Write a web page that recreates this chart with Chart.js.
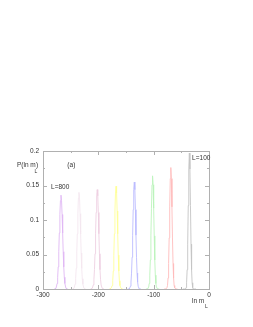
<!DOCTYPE html>
<html>
<head>
<meta charset="utf-8">
<script src="https://cdn.jsdelivr.net/npm/chart.js@4/dist/chart.umd.min.js"></script>
<style>
html,body{margin:0;padding:0;background:#fff;}
canvas{display:block;}
</style>
</head>
<body>
<canvas id="c" width="253" height="327"></canvas>
<script>
// ---- data ----
const seriesLabels = ["L=800", "L=700", "L=600", "L=500", "L=400", "L=300", "L=200", "L=100"];
const s1x = [-279.5,-276.5,-274.5,-273.5,-272.5,-271.5,-270.5,-269.5,-268.5,-267.5,-266.5,-265.5,-264.5,-263.5,-262.5,-261.5,-260.5,-258.5,-255.5];
const s1y = [0,0.001,0.008,0.017,0.032,0.054,0.081,0.108,0.128,0.136,0.128,0.108,0.081,0.054,0.032,0.017,0.008,0.001,0];
const s2x = [-247,-244,-242,-241,-240,-239,-238,-237,-236,-235,-234,-233,-232,-231,-230,-229,-228,-226,-223];
const s2y = [0,0.001,0.007,0.015,0.030,0.052,0.080,0.109,0.132,0.140,0.132,0.109,0.080,0.052,0.030,0.015,0.007,0.001,0];
const s3x = [-214,-211,-209,-208,-207,-206,-205,-204,-203,-202,-201,-200,-199,-198,-197,-196,-195,-193,-190];
const s3y = [0,0.001,0.006,0.014,0.028,0.051,0.080,0.111,0.135,0.144,0.135,0.111,0.080,0.051,0.028,0.014,0.006,0.001,0];
const s4x = [-180,-177,-175,-174,-173,-172,-171,-170,-169,-168,-167,-166,-165,-164,-163,-162,-161,-159,-156];
const s4y = [0,0.001,0.005,0.012,0.026,0.049,0.080,0.113,0.139,0.149,0.139,0.113,0.080,0.049,0.026,0.012,0.005,0.001,0];
const s5x = [-147,-144,-142,-141,-140,-139,-138,-137,-136,-135,-134,-133,-132,-131,-130,-129,-128,-126,-123];
const s5y = [0,0,0.004,0.010,0.023,0.046,0.078,0.115,0.144,0.155,0.144,0.115,0.078,0.046,0.023,0.010,0.004,0,0];
const s6x = [-114,-111,-109,-108,-107,-106,-105,-104,-103,-102,-101,-100,-99,-98,-97,-96,-95,-93,-90];
const s6y = [0,0,0.003,0.008,0.020,0.042,0.077,0.117,0.151,0.164,0.151,0.117,0.077,0.042,0.020,0.008,0.003,0,0];
const s7x = [-81,-78,-76,-75,-74,-73,-72,-71,-70,-69,-68,-67,-66,-65,-64,-63,-62,-60,-57];
const s7y = [0,0,0.002,0.005,0.016,0.037,0.074,0.119,0.160,0.176,0.160,0.119,0.074,0.037,0.016,0.005,0.002,0,0];
const s8x = [-47.5,-44.5,-42.5,-41.5,-40.5,-39.5,-38.5,-37.5,-36.5,-35.5,-34.5,-33.5,-32.5,-31.5,-30.5,-29.5,-28.5,-26.5,-23.5];
const s8y = [0,0,0,0.002,0.009,0.028,0.065,0.121,0.174,0.197,0.174,0.121,0.065,0.028,0.009,0.002,0,0,0];
const xTickLabels = [-300, -200, -100, 0];
const yTickLabels = ["0", "0.05", "0.1", "0.15", "0.2"];

// ---- styles ----
const colors = ["#e0b8f4", "#f4e6ef", "#eed0e2", "#ffff98", "#bcbcff", "#bcf4bc", "#ffbcbc", "#c4c4c4"];
const FONT = '"Liberation Sans", Arial, sans-serif';
const TXT = "#333";

const xs = [s1x,s2x,s3x,s4x,s5x,s6x,s7x,s8x];
const ys = [s1y,s2y,s3y,s4y,s5y,s6y,s7y,s8y];
const datasets = xs.map((xa, i) => ({
  label: seriesLabels[i],
  data: xa.map((x, j) => ({x: x, y: ys[i][j]})),
  showLine: true,
  borderColor: colors[i],
  borderWidth: 0.9,
  pointRadius: 0,
  tension: 0,
  fill: false
}));

const framePlugin = {
  id: 'frame',
  afterDraw(chart) {
    const ctx = chart.ctx;
    const {left, right, top, bottom} = chart.chartArea;
    const xsc = chart.scales.x, ysc = chart.scales.y;
    ctx.save();
    ctx.strokeStyle = "#b0b0b0";
    ctx.lineWidth = 1;
    ctx.strokeRect(Math.round(left) + 0.5, Math.round(top) + 0.5, Math.round(right - left), Math.round(bottom - top));
    ctx.beginPath();
    xsc.ticks.forEach(t => {
      const px = Math.round(xsc.getPixelForValue(t.value)) + 0.5;
      const len = xTickLabels.includes(t.value) ? 4 : 2;
      ctx.moveTo(px, bottom); ctx.lineTo(px, bottom - len);
      ctx.moveTo(px, top); ctx.lineTo(px, top + len);
    });
    ysc.ticks.forEach(t => {
      const py = Math.round(ysc.getPixelForValue(t.value)) + 0.5;
      const major = Math.round(t.value * 40) % 2 === 0;
      const len = major ? 4 : 2;
      ctx.moveTo(left, py); ctx.lineTo(left + len, py);
      ctx.moveTo(right, py); ctx.lineTo(right - len, py);
    });
    ctx.stroke();

    ctx.fillStyle = TXT;
    ctx.textBaseline = "middle";
    ctx.textAlign = "left";
    ctx.font = "6.5px " + FONT;
    // y axis title
    ctx.fillText("P(ln m", left - 26, top + 14);
    ctx.fillText(")", left - 7, top + 14);
    ctx.font = "5px " + FONT;
    ctx.fillText("L", left - 8.5, top + 20.5);
    // x axis title
    ctx.font = "6.5px " + FONT;
    ctx.fillText("ln m", right - 17, bottom + 12);
    ctx.font = "5px " + FONT;
    ctx.fillText("L", right - 4, bottom + 18);
    // annotations
    ctx.font = "6.5px " + FONT;
    ctx.fillText("(a)", xsc.getPixelForValue(-256), ysc.getPixelForValue(0.1795));
    ctx.fillText(seriesLabels[0], xsc.getPixelForValue(-285.5), ysc.getPixelForValue(0.147));
    ctx.fillText(seriesLabels[7], xsc.getPixelForValue(-30.5), ysc.getPixelForValue(0.19));
    ctx.restore();
  }
};

new Chart(document.getElementById('c'), {
  type: 'scatter',
  data: { datasets },
  options: {
    responsive: false,
    animation: false,
    devicePixelRatio: 1,
    layout: { padding: { left: 3, right: 44, top: 151, bottom: 16 } },
    plugins: { legend: { display: false }, tooltip: { enabled: false } },
    scales: {
      x: {
        type: 'linear', min: -300, max: 0,
        afterFit(s) { s.height = 22; },
        grid: { display: false, drawTicks: false, tickLength: 0 },
        border: { display: false },
        ticks: {
          stepSize: 50, padding: 2, color: TXT, maxRotation: 0, autoSkip: false,
          font: { family: FONT, size: 6.5 },
          callback: v => xTickLabels.includes(v) ? String(v) : ''
        }
      },
      y: {
        type: 'linear', min: 0, max: 0.2,
        afterFit(s) { s.width = 40; },
        grid: { display: false, drawTicks: false, tickLength: 0 },
        border: { display: false },
        ticks: {
          stepSize: 0.025, padding: 4, color: TXT, autoSkip: false,
          font: { family: FONT, size: 6.5 },
          callback: v => {
            const k = Math.round(v * 40);
            return k % 2 === 0 ? yTickLabels[k / 2] : '';
          }
        }
      }
    }
  },
  plugins: [framePlugin]
});
</script>
</body>
</html>
